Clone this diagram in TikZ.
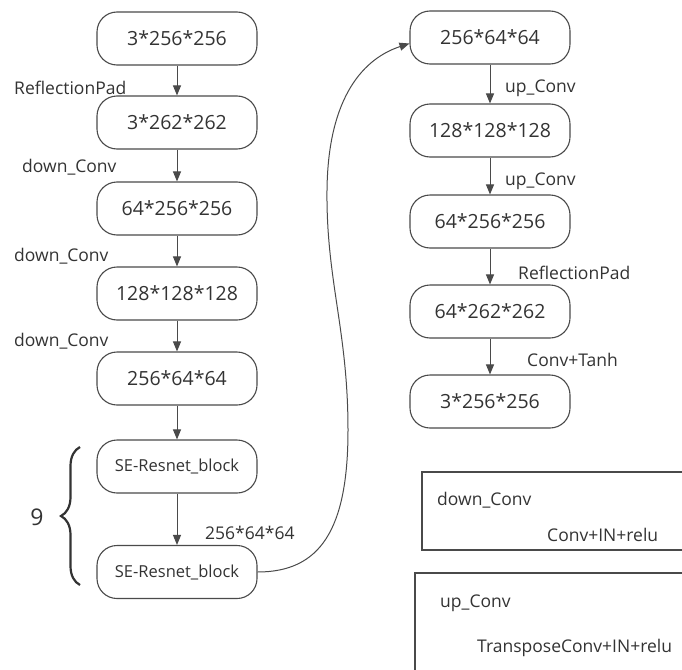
\documentclass[tikz,border=0pt]{standalone}
\usepackage{fontspec}
\setmainfont{Open Sans}
\usetikzlibrary{arrows.meta,decorations.pathreplacing,calc}
\definecolor{ln}{HTML}{4A4A4A}
\definecolor{tx}{HTML}{333333}
\tikzset{
  blk/.style={draw=ln,line width=1.1pt,rounded corners=20pt,minimum width=160pt,minimum height=53pt,inner sep=0pt,text=tx,font=\fontsize{19.5}{20}\selectfont},
  seblk/.style={blk,font=\fontsize{16.5}{18}\selectfont},
  lab/.style={text=tx,font=\fontsize{17.5}{19}\selectfont,inner sep=0pt},
  arr/.style={draw=ln,line width=1pt,-{Triangle[length=10pt,width=8pt]}},
  legbox/.style={draw=ln,line width=1.1pt}
}
\begin{document}
\begin{tikzpicture}[x=1pt,y=-1pt]
\useasboundingbox (0,0) rectangle (682,669);
\clip (0,0) rectangle (682,669);
% left column
\node[blk] (l1) at (177,38.5) {3*256*256};
\node[blk] (l2) at (177,122.5) {3*262*262};
\node[blk] (l3) at (177,208.5) {64*256*256};
\node[blk] (l4) at (177,293.5) {128*128*128};
\node[blk] (l5) at (177,378.5) {256*64*64};
\node[seblk] (s1) at (177,466.5) {SE-Resnet\_block};
\node[seblk] (s2) at (177,572) {SE-Resnet\_block};
\draw[arr] (l1) -- (l2);
\draw[arr] (l2) -- (l3);
\draw[arr] (l3) -- (l4);
\draw[arr] (l4) -- (l5);
\draw[arr] (l5) -- (s1);
\draw[arr] (s1) -- (s2);
\node[lab,anchor=west] (t1) at (14,88) {ReflectionPad};
\node[lab,anchor=west] (t2) at (22,167) {down\_Conv};
\node[lab,anchor=west] (t3) at (14,256) {down\_Conv};
\node[lab,anchor=west] (t4) at (14,341) {down\_Conv};
\node[lab,anchor=west] (t5) at (205,533) {256*64*64};
% brace
\draw[tx,line width=2.2pt,decorate,decoration={brace,amplitude=19pt,aspect=0.5}] (80,585) -- (80,447);
\node[text=tx,font=\fontsize{23}{24}\selectfont,inner sep=0pt] (nine) at (37,517) {9};
% right column
\node[blk] (r1) at (490,37.5) {256*64*64};
\node[blk] (r2) at (490,130.5) {128*128*128};
\node[blk] (r3) at (490,221.5) {64*256*256};
\node[blk] (r4) at (490,311.5) {64*262*262};
\node[blk] (r5) at (490,401.5) {3*256*256};
\draw[arr] (r1) -- (r2);
\draw[arr] (r2) -- (r3);
\draw[arr] (r3) -- (r4);
\draw[arr] (r4) -- (r5);
\node[lab,anchor=west] (u1) at (505,88) {up\_Conv};
\node[lab,anchor=west] (u2) at (505,181) {up\_Conv};
\node[lab,anchor=west] (u3) at (518,273) {ReflectionPad};
\node[lab,anchor=west] (u4) at (527,360) {Conv+Tanh};
% curve
\coordinate (rin) at ($(r1.west)+(0,6)$);
\draw[arr] (s2.east) .. controls (320,572) and (348,530) .. (348,430)
  .. controls (348,330) and (326,280) .. (327,190)
  .. controls (328,95) and (365,58) .. (rin);
% legend
\draw[legbox] (422,472) rectangle (700,550);
\node[lab,anchor=west] (g1) at (437,500) {down\_Conv};
\node[lab,anchor=west] (g2) at (547,535) {Conv+IN+relu};
\draw[legbox] (415,573) rectangle (700,690);
\node[lab,anchor=west] (g3) at (440,603) {up\_Conv};
\node[lab,anchor=west] (g4) at (477,648) {TransposeConv+IN+relu};
\end{tikzpicture}
\end{document}
